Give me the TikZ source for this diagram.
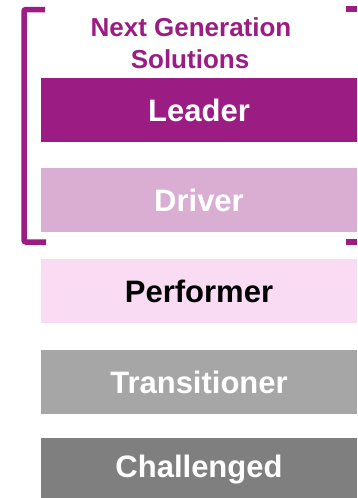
\documentclass[tikz,border=0pt]{standalone}
\usepackage{fontspec}
\setmainfont{Liberation Sans}
\definecolor{leaderc}{RGB}{155,28,130}
\definecolor{driverc}{RGB}{218,174,210}
\definecolor{performerc}{RGB}{249,220,243}
\definecolor{transc}{RGB}{166,166,166}
\definecolor{challc}{RGB}{127,127,127}
\begin{document}
\begin{tikzpicture}[x=1pt,y=-1pt,
  tier/.style={rectangle,inner sep=0pt,minimum width=316pt,minimum height=64pt,
    font=\fontsize{31}{36}\selectfont\bfseries,text=white},
  heading/.style={inner sep=0pt,anchor=base,text=leaderc,
    font=\fontsize{26}{32}\selectfont\bfseries},
  bracket/.style={draw=leaderc,line width=5.5pt,rounded corners=2pt}]
\useasboundingbox (0,0) rectangle (357,498);
\node[heading] (h1) at (191,36) {Next Generation};
\node[heading] (h2) at (190,68) {Solutions};
\node[tier,fill=leaderc] (leader) at (199,110) {Leader};
\node[tier,fill=driverc] (driver) at (199,200) {Driver};
\node[tier,fill=performerc,text=black] (performer) at (199,291) {Performer};
\node[tier,fill=transc] (trans) at (199,382) {Transitioner};
\node[tier,fill=challc] (chall) at (199,469.5) {Challenged};
\draw[bracket] (45,9.5) -- (24,9.5) -- (24,242) -- (46,242);
\draw[draw=leaderc,line width=6pt] (346,8.5) -- (357,8.5);
\draw[draw=leaderc,line width=6pt] (346,242) -- (357,242);
\end{tikzpicture}
\end{document}
